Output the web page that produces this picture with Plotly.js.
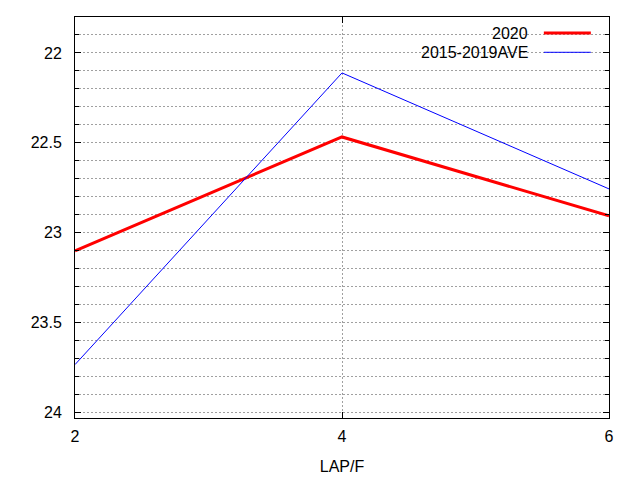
<!DOCTYPE html>
<html>
<head>
<meta charset="utf-8">
<script src="https://cdn.plot.ly/plotly-3.0.1.min.js"></script>
<style>
  html, body { margin: 0; padding: 0; background: #fff; }
  #graph { width: 640px; height: 480px; }
</style>
</head>
<body>
<div id="graph"></div>
<script>
// values
const laps = [2, 4, 6];
const y2020 = [23.10, 22.467, 22.906];
const yAve = [23.733, 22.111, 22.756];
const seriesNames = ["2020", "2015-2019AVE"];
const yTicks = [22, 22.5, 23, 23.5, 24];

const font = { family: "Liberation Sans, Arial, sans-serif", size: 16, color: "#000" };
const gridDash = '2px,2px';

function initPlot() {
    const traces = [
        {
            name: seriesNames[0],
            x: laps,
            y: y2020,
            mode: 'lines',
            line: { color: 'red', width: 3 },
        },
        {
            name: seriesNames[1],
            x: laps,
            y: yAve,
            mode: 'lines',
            line: { color: 'blue', width: 1 },
        },
    ];

    const layout = {
        width: 640,
        height: 480,
        margin: { l: 75, r: 31, t: 17, b: 62 },
        paper_bgcolor: '#fff',
        plot_bgcolor: '#fff',
        font: font,
        showlegend: false,
        xaxis: {
            range: [2, 6],
            tickvals: laps,
            ticks: 'inside',
            ticklen: 6,
            tickcolor: '#000',
            showline: true,
            linecolor: '#000',
            linewidth: 1,
            mirror: 'ticks',
            showgrid: true,
            gridcolor: '#a0a0a0',
            griddash: gridDash,
            zeroline: false,
            ticklabelstandoff: 4,
            title: { text: 'LAP/F', font: font, standoff: 16 },
        },
        yaxis: {
            range: [24.03, 21.8],
            tickvals: yTicks,
            ticks: 'inside',
            ticklen: 6,
            tickcolor: '#000',
            showline: true,
            linecolor: '#000',
            linewidth: 1,
            mirror: 'ticks',
            showgrid: true,
            gridcolor: '#a0a0a0',
            griddash: gridDash,
            zeroline: false,
            ticklabelstandoff: 9,
            minor: {
                dtick: 0.1,
                tick0: 22,
                ticks: 'inside',
                ticklen: 4,
                tickcolor: '#000',
                showgrid: true,
                gridcolor: '#a0a0a0',
                griddash: gridDash,
            },
        },
        // gnuplot style key: text right-aligned, line sample on the right
        annotations: seriesNames.map((n, i) => ({
            xref: 'paper', yref: 'paper',
            x: 0.852, y: [0.960, 0.912][i],
            xanchor: 'right', yanchor: 'middle',
            text: n, showarrow: false, font: font,
        })),
        shapes: [
            { type: 'line', xref: 'paper', yref: 'paper', x0: 0.878, x1: 0.966, y0: 0.960, y1: 0.960, line: { color: 'red', width: 3 } },
            { type: 'line', xref: 'paper', yref: 'paper', x0: 0.878, x1: 0.966, y0: 0.912, y1: 0.912, line: { color: 'blue', width: 1 } },
        ],
    };

    Plotly.newPlot('graph', traces, layout, { displayModeBar: false, staticPlot: true });
}

initPlot();
</script>
</body>
</html>
